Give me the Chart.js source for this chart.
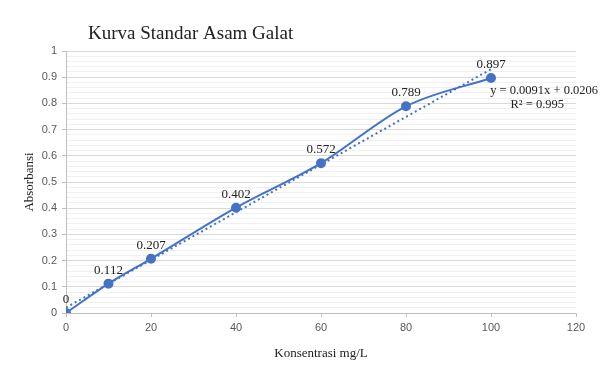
<!DOCTYPE html>
<html>
<head>
<meta charset="utf-8">
<script src="https://cdn.jsdelivr.net/npm/chart.js@4/dist/chart.umd.min.js"></script>
<style>
  body { margin: 0; background: #fff; }
  #wrap { width: 600px; height: 375px; }
</style>
</head>
<body>
<div id="wrap"><canvas id="chart" width="600" height="375"></canvas></div>
<script>
// data
const konsentrasi = [0, 10, 20, 40, 60, 80, 100];
const absorbansi = [0, 0.112, 0.207, 0.402, 0.572, 0.789, 0.897];
// linear trendline endpoints (y = 0.0091x + 0.0206)
const trendX = [0, 100];
const trendY = [0.0206, 0.9306];
const xTicks = [0, 20, 40, 60, 80, 100, 120];
const eqLines = ['y = 0.0091x + 0.0206', 'R² = 0.995'];

const blue = '#4472C4';
const serif = '"Liberation Serif", "DejaVu Serif", serif';
const sans = '"Liberation Sans", "DejaVu Sans", sans-serif';

// labels above points, title and trend equation
const textPlugin = {
  id: 'texts',
  afterDatasetsDraw(chart) {
    const ctx = chart.ctx;
    const meta = chart.getDatasetMeta(0);
    ctx.save();
    ctx.fillStyle = '#222';
    ctx.font = '13px ' + serif;
    ctx.textAlign = 'center';
    ctx.textBaseline = 'bottom';
    meta.data.forEach((pt, i) => {
      ctx.fillText(String(absorbansi[i]), pt.x, pt.y - 7);
    });

    ctx.font = '19px ' + serif;
    ctx.textAlign = 'left';
    ctx.textBaseline = 'middle';
    ctx.fillText('Kurva Standar Asam Galat', 88, 34);

    ctx.font = '12.5px ' + serif;
    ctx.textAlign = 'right';
    ctx.fillText(eqLines[0], 598, 91);
    ctx.fillText(eqLines[1], 564, 105);
    ctx.restore();
  }
};

new Chart(document.getElementById('chart'), {
  type: 'scatter',
  data: {
    datasets: [{
      data: konsentrasi.map((x, i) => ({ x: x, y: absorbansi[i] })),
      showLine: true,
      borderColor: blue,
      backgroundColor: blue,
      borderWidth: 2,
      pointRadius: 4,
      pointHoverRadius: 4,
      cubicInterpolationMode: 'monotone',
      order: 1
    }, {
      data: trendX.map((x, i) => ({ x: x, y: trendY[i] })),
      showLine: true,
      borderColor: blue,
      borderWidth: 2,
      borderDash: [2, 3],
      pointRadius: 0,
      order: 2
    }]
  },
  options: {
    responsive: false,
    animation: false,
    layout: { padding: { left: 18, top: 51, right: 24, bottom: 10 } },
    plugins: { legend: { display: false }, tooltip: { enabled: false } },
    scales: {
      x: {
        type: 'linear',
        min: 0, max: 120,
        afterBuildTicks: s => { s.ticks = xTicks.map(v => ({ value: v })); },
        afterFit: s => { s.height = 52; },
        grid: { display: true, drawOnChartArea: false, color: '#bfbfbf', tickLength: 4 },
        border: { color: '#bfbfbf' },
        ticks: { color: '#595959', font: { family: sans, size: 11 }, padding: 4 },
        title: { display: true, text: 'Konsentrasi mg/L', color: '#222', font: { family: serif, size: 13 }, padding: { top: 4 } }
      },
      y: {
        min: 0, max: 1,
        ticks: {
          stepSize: 0.02,
          autoSkip: false,
          color: '#595959',
          font: { family: sans, size: 11 },
          padding: 5,
          callback: v => {
            const r = Math.round(v * 50);
            return r % 5 === 0 ? String(Math.round(v * 10) / 10) : '';
          }
        },
        afterFit: s => { s.width = 48; },
        grid: {
          color: c => (Math.round(c.tick.value * 50) % 5 === 0 ? '#d9d9d9' : '#f0f0f0'),
          tickColor: c => (Math.round(c.tick.value * 50) % 5 === 0 ? '#bfbfbf' : 'rgba(0,0,0,0)'),
          tickLength: 4
        },
        border: { color: '#bfbfbf' },
        title: { display: true, text: 'Absorbansi', color: '#222', font: { family: serif, size: 13 }, padding: { bottom: 2 } }
      }
    }
  },
  plugins: [textPlugin]
});
</script>
</body>
</html>
